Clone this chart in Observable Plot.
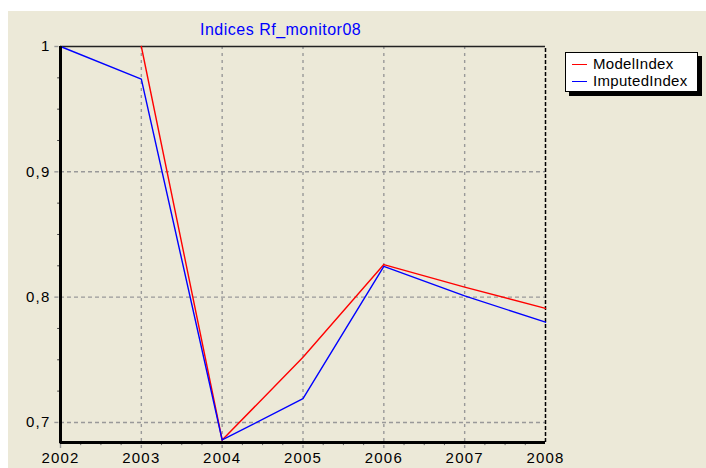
<!DOCTYPE html>
<html><head><meta charset="utf-8">
<script src="https://cdn.jsdelivr.net/npm/d3@7"></script>
<script src="https://cdn.jsdelivr.net/npm/@observablehq/plot@0.6"></script>
<style>
html,body{margin:0;padding:0;background:#fff;width:706px;height:468px;overflow:hidden;}
#wrap{position:absolute;left:8px;top:11px;width:698px;height:457px;background:#ECE9D8;}
#title{position:absolute;left:192px;top:10px;font:16px "Liberation Sans",Arial,sans-serif;letter-spacing:0.5px;color:#0000FF;white-space:nowrap;}
#legend{position:absolute;left:557px;top:41px;width:131px;height:38px;background:#fff;border:1px solid #000;box-shadow:4px 4px 0 #000;font:15px "Liberation Sans",Arial,sans-serif;letter-spacing:0.3px;color:#000;}
.li{position:absolute;left:6px;height:18px;line-height:18px;white-space:nowrap;}
.sw{display:inline-block;width:15px;height:1px;vertical-align:middle;margin-right:6px;position:relative;top:-1px;}
svg text{letter-spacing:1.2px;}
</style></head>
<body>
<div id="wrap">
  <div id="chart"></div>
  <div id="title">Indices Rf_monitor08</div>
  <div id="legend">
    <div class="li" style="top:2px"><span class="sw" style="background:#FF0000"></span>ModelIndex</div>
    <div class="li" style="top:19px"><span class="sw" style="background:#0000FF"></span>ImputedIndex</div>
  </div>
</div>
<script>
const years = [2002, 2003, 2004, 2005, 2006, 2007, 2008];
const modelIndex = [NaN, 1.0, 0.686, 0.752, 0.826, 0.808, 0.791];
const imputedIndex = [1.0, 0.974, 0.686, 0.719, 0.8245, 0.801, 0.780];
const yTicks = [0.7, 0.8, 0.9, 1.0];
const seriesNames = ["ModelIndex", "ImputedIndex"];
const seriesColors = ["#FF0000", "#0000FF"];

const yMin = 0.684, yMax = 1.0;
const data = [];
years.forEach((yr, i) => {
  data.push({year: yr, value: modelIndex[i], series: seriesNames[0]});
  data.push({year: yr, value: imputedIndex[i], series: seriesNames[1]});
});
const quarters = d3.range(2002, 2008.001, 0.25).filter(q => Math.abs(q - Math.round(q)) > 1e-6);
const yMinor = d3.range(0.7, 1.0001, 0.025).filter(v => yTicks.every(t => Math.abs(t - v) > 1e-6));

const plot = Plot.plot({
  width: 698,
  height: 457,
  marginLeft: 52,
  marginRight: 161,
  marginTop: 35,
  marginBottom: 26,
  style: {background: "transparent", fontFamily: "'Liberation Sans', Arial, sans-serif", fontSize: "15px", color: "#000"},
  x: {domain: [2002, 2008], axis: null},
  y: {domain: [yMin, yMax], axis: null},
  color: {domain: seriesNames, range: seriesColors},
  marks: [
    Plot.ruleY(yTicks.filter(t => t < 1), {y: d => d, x1: 2002, x2: 2008, stroke: "#999", strokeWidth: 1.4, strokeDasharray: "4,3"}),
    Plot.ruleX(years.slice(1, -1), {x: d => d, y1: yMin - 0.0048, y2: yMax, stroke: "#999", strokeWidth: 1.4, strokeDasharray: "3,4"}),
    Plot.ruleX([2002], {x: d => d, y1: yMin - 0.0048, y2: yMin, stroke: "#999", strokeWidth: 1.4}),
    Plot.ruleX(quarters, {x: d => d, y1: yMin, y2: yMin - 0.0025, stroke: "#666", strokeWidth: 1}),
    Plot.ruleY(yMinor, {y: d => d, x1: 2002 - 0.035, x2: 2002, stroke: "#444", strokeWidth: 1}),
    Plot.ruleY(yTicks, {y: d => d, x1: 2002 - 0.07, x2: 2002, stroke: "#999", strokeWidth: 1.4, strokeDasharray: "4,3"}),
    Plot.ruleY([yMax], {x1: 2002, x2: 2008, stroke: "#222", strokeWidth: 1.3}),
    Plot.ruleX([2008], {y1: yMin, y2: yMax, stroke: "#000", strokeWidth: 1.5, strokeDasharray: "4,2"}),
    Plot.line(data, {x: "year", y: "value", z: "series", stroke: "series", strokeWidth: 1.4, curve: "linear"}),
    Plot.ruleX([2002], {y1: yMin - 0.001, y2: yMax, stroke: "#000", strokeWidth: 3}),
    Plot.ruleY([yMin], {x1: 2002, x2: 2008, stroke: "#000", strokeWidth: 3}),
    Plot.axisY(yTicks, {anchor: "left", label: null, tickSize: 0, tickPadding: 10, tickFormat: d => d === 1 ? "1" : d3.format(".1f")(d).replace(".", ","), fill: "#000", fontSize: 15}),
    Plot.axisX(years, {anchor: "bottom", label: null, tickSize: 0, tickPadding: 10, tickFormat: d => String(d), fill: "#000", fontSize: 15})
  ]
});
document.getElementById("chart").appendChild(plot);
</script>
</body></html>
